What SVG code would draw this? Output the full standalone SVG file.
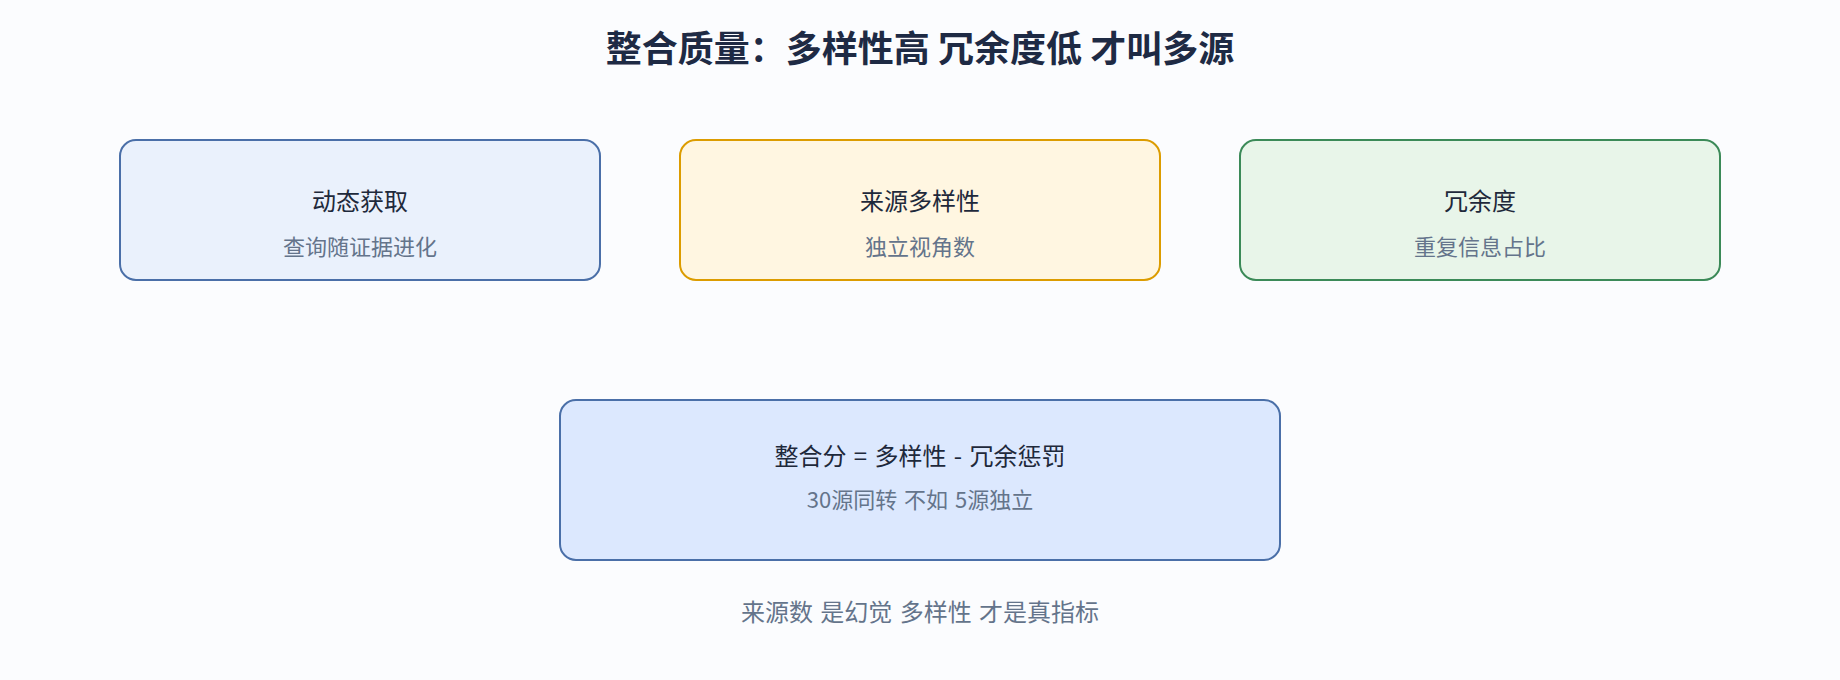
<svg xmlns="http://www.w3.org/2000/svg" width="1840" height="680" viewBox="0 0 1840 680">
<style>
text{font-family:"Noto Sans CJK SC","Noto Sans",sans-serif;text-anchor:middle}
.title{font-size:36px;font-weight:700;fill:#1e2a44}
.nt{font-size:24px;fill:#1e293b}
.ns{font-size:22px;fill:#64748b}
.ws{word-spacing:2px}
.foot{font-size:24px;fill:#64748b}
.box{stroke-width:2}
</style>
<rect width="1840" height="680" fill="#fbfcfe"/>
<text class="title" x="920" y="62">整合质量：多样性高 冗余度低 才叫多源</text>
<g id="connectors"></g>
<g id="node-dynamic">
<rect class="box" x="120" y="140" width="480" height="140" rx="16" fill="#eaf1fc" stroke="#4a6fa8"/>
<text class="nt" x="360" y="210">动态获取</text>
<text class="ns" x="360" y="255">查询随证据进化</text>
</g>
<g id="node-diversity">
<rect class="box" x="680" y="140" width="480" height="140" rx="16" fill="#fff6e1" stroke="#dc9c00"/>
<text class="nt" x="920" y="210">来源多样性</text>
<text class="ns" x="920" y="255">独立视角数</text>
</g>
<g id="node-redundancy">
<rect class="box" x="1240" y="140" width="480" height="140" rx="16" fill="#e8f5e9" stroke="#3b8a58"/>
<text class="nt" x="1480" y="210">冗余度</text>
<text class="ns" x="1480" y="255">重复信息占比</text>
</g>
<g id="node-score">
<rect class="box" x="560" y="400" width="720" height="160" rx="16" fill="#dce8fe" stroke="#4a6fa8"/>
<text class="nt ws" x="920" y="465">整合分 = 多样性 - 冗余惩罚</text>
<text class="ns ws" x="920" y="508">30源同转 不如 5源独立</text>
</g>
<text class="foot ws" x="920" y="621">来源数 是幻觉 多样性 才是真指标</text>
</svg>
